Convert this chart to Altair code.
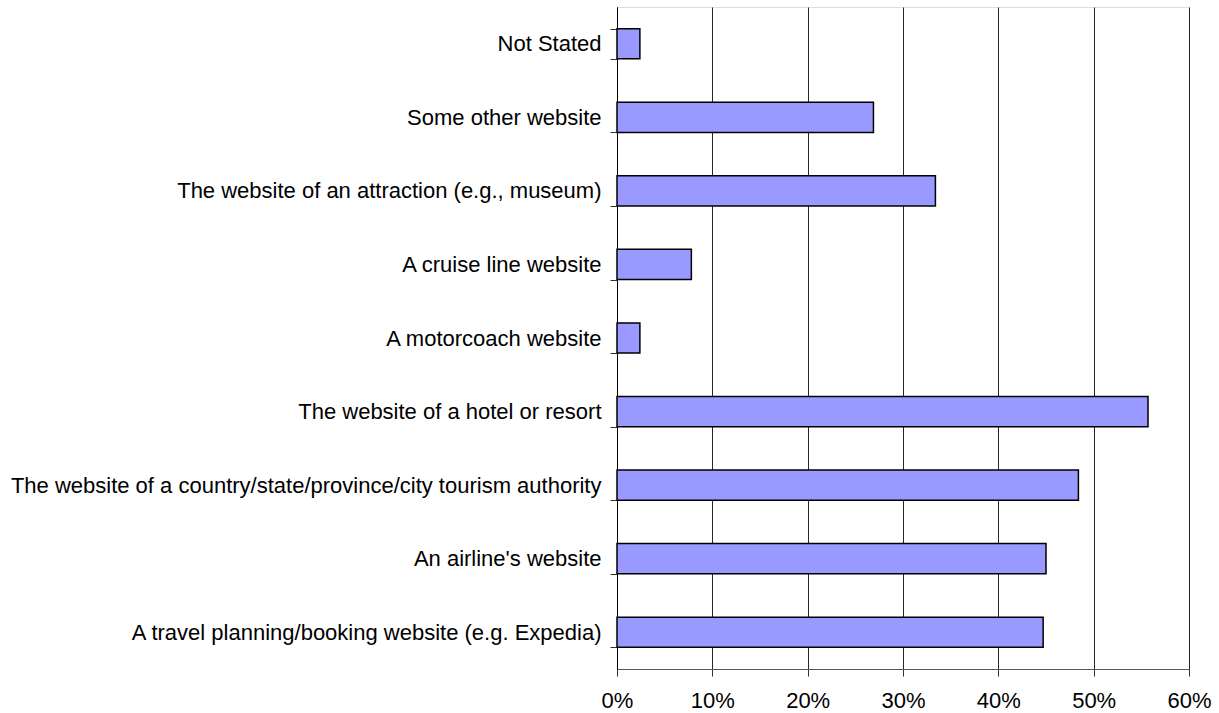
import altair as alt
import pandas as pd

categories = [
    "Not Stated",
    "Some other website",
    "The website of an attraction (e.g., museum)",
    "A cruise line website",
    "A motorcoach website",
    "The website of a hotel or resort",
    "The website of a country/state/province/city tourism authority",
    "An airline's website",
    "A travel planning/booking website (e.g. Expedia)",
]
values = [0.024, 0.269, 0.334, 0.078, 0.024, 0.557, 0.484, 0.450, 0.447]

df = pd.DataFrame({"category": categories, "value": values})

chart = alt.Chart(df).mark_bar(
    fill="#9999FF", stroke="#000000", strokeWidth=1.5
).encode(
    x=alt.X(
        "value:Q",
        scale=alt.Scale(domain=[0, 0.6], nice=False),
        axis=alt.Axis(
            format="%", values=[0, 0.1, 0.2, 0.3, 0.4, 0.5, 0.6], title=None,
            grid=True, gridColor="#000000", gridOpacity=0.85, gridWidth=1,
            domainColor="#555555", tickColor="#333333", tickSize=7,
            labelFont="Liberation Sans", labelFontSize=22, labelColor="#000000",
            labelPadding=14, labelFlush=False,
        ),
    ),
    y=alt.Y(
        "category:N",
        sort=categories,
        scale=alt.Scale(paddingInner=0.59, paddingOuter=0.295),
        axis=alt.Axis(
            title=None, tickBand="extent", tickSize=7, tickColor="#333333",
            domainColor="#000000", labelFont="Liberation Sans", labelFontSize=22,
            labelColor="#000000", labelPadding=9, labelLimit=900,
        ),
    ),
).properties(
    width=572, height=662
).configure_view(
    stroke="#888888", strokeWidth=1
).configure(
    background="#ffffff", padding={"left": 10, "top": -4, "right": 5, "bottom": 0}
)

chart.save("out.html", embed_options={"renderer": "svg", "actions": False})
